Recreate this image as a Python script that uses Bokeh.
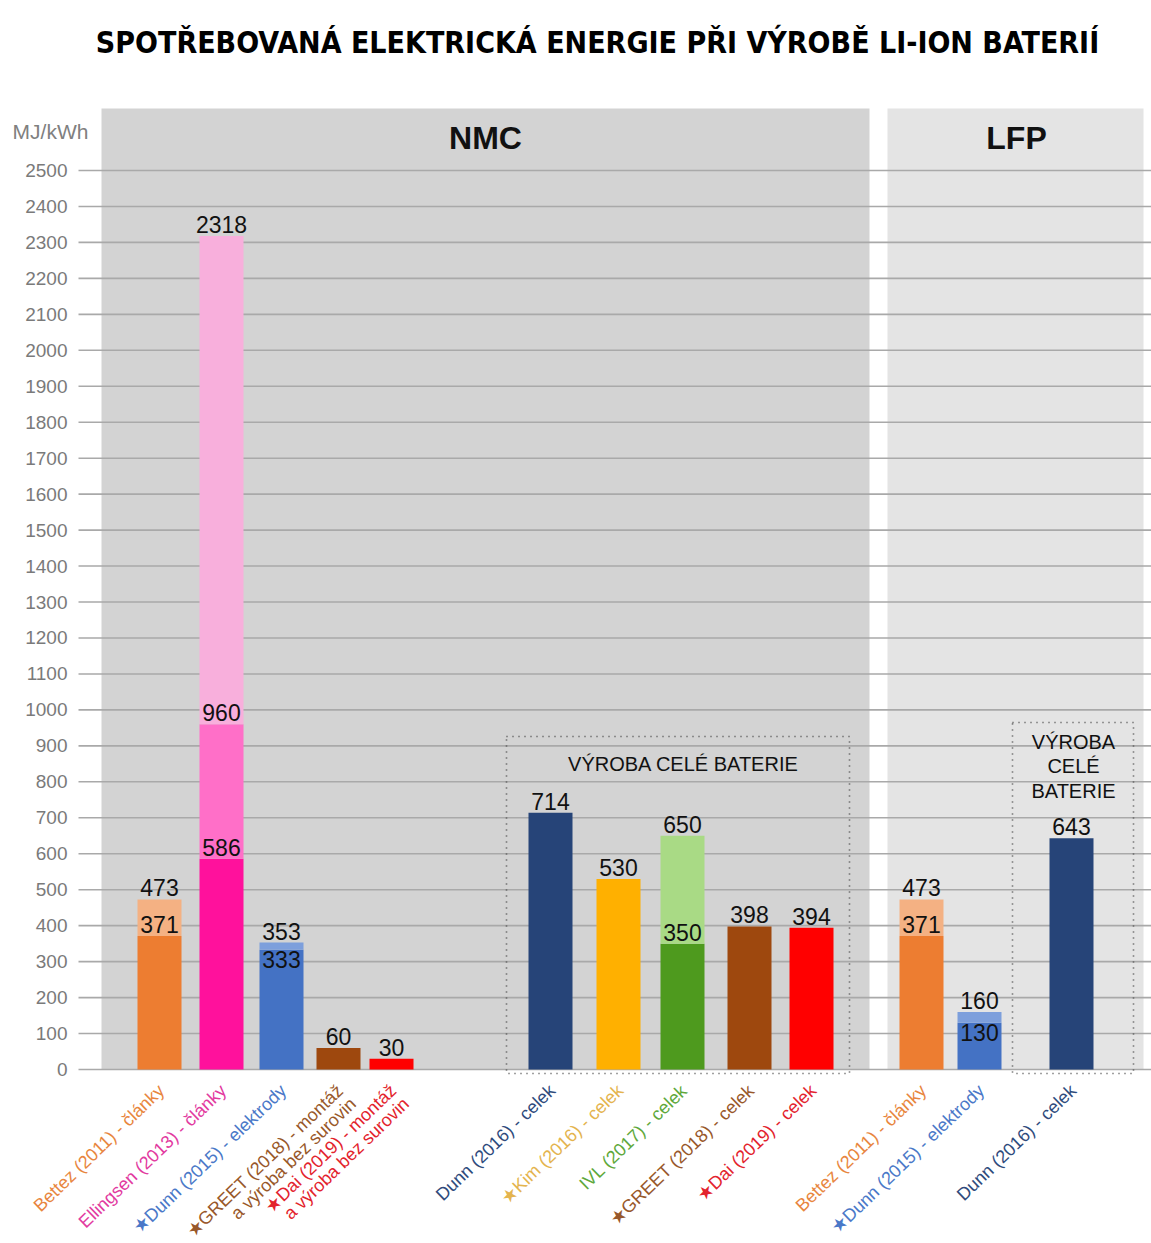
from bokeh.plotting import figure
from bokeh.models import Range1d, ColumnDataSource
from bokeh.core.properties import value
from bokeh.embed import file_html
from bokeh.resources import INLINE

# ---------------- data ----------------
title_text = "SPOTŘEBOVANÁ ELEKTRICKÁ ENERGIE PŘI VÝROBĚ LI-ION BATERIÍ"
unit_text = "MJ/kWh"
panel_names = ["NMC", "LFP"]
box_text_nmc = "VÝROBA CELÉ BATERIE"
box_text_lfp = "VÝROBA\nCELÉ\nBATERIE"
y_ticks = list(range(0, 2600, 100))

# NMC - partial production steps
g1_labels = ["Bettez (2011) - články", "Ellingsen (2013) - články",
             "★Dunn (2015) - elektrody",
             "★GREET (2018) - montáž\na výroba bez surovin",
             "★Dai (2019) - montáž\na výroba bez surovin"]
g1_values = [[371, 473], [586, 960, 2318], [333, 353], [60], [30]]
g1_colors = [["#ed7d31", "#f4b183"], ["#ff119c", "#ff6fc8", "#f8afdc"],
             ["#4472c4", "#7d9fdc"], ["#9e480e"], ["#ff0000"]]
g1_text_colors = ["#e8863e", "#e23aa0", "#4a78c8", "#98582a", "#e3232d"]

# NMC - whole battery
g2_labels = ["Dunn (2016) - celek", "★Kim (2016) - celek", "IVL (2017) - celek",
             "★GREET (2018) - celek", "★Dai (2019) - celek"]
g2_values = [[714], [530], [350, 650], [398], [394]]
g2_colors = [["#264478"], ["#ffb000"], ["#4e9a1e", "#a9da85"], ["#9e480e"], ["#ff0000"]]
g2_text_colors = ["#2f4b7c", "#e4b44e", "#5ea83a", "#98582a", "#e3232d"]

# LFP
g3_labels = ["Bettez (2011) - články", "★Dunn (2015) - elektrody", "Dunn (2016) - celek"]
g3_values = [[371, 473], [130, 160], [643]]
g3_colors = [["#ed7d31", "#f4b183"], ["#4472c4", "#7d9fdc"], ["#264478"]]
g3_text_colors = ["#e8863e", "#4a78c8", "#2f4b7c"]

# ---------------- layout ----------------
W, H = 1151, 1243
GRID_LEFT = 78
ZERO_PX = 1069          # pixel row of value 0
PX_PER_UNIT = 899 / 2500


def val(py):
    """page pixel row -> data value"""
    return (ZERO_PX - py) / PX_PER_UNIT


g1_x = [159, 221, 281, 338, 391]
g2_x = [550, 618, 682, 749, 811]
g3_x = [921, 979, 1071]
BAR_W = 44

p = figure(width=W, height=H, output_backend="svg", toolbar_location=None,
           x_axis_type=None, y_axis_type=None,
           x_range=Range1d(0, W), y_range=Range1d(val(H), val(0)),
           min_border_left=0, min_border_right=0,
           min_border_top=0, min_border_bottom=0)
p.outline_line_color = None
p.background_fill_color = "white"
p.border_fill_color = "white"
p.xgrid.visible = False
p.ygrid.visible = False

# panels
panel_top = val(108)
p.quad(left=[101], right=[869], bottom=[0], top=[panel_top],
       fill_color="#d3d3d3", line_color=None, level="underlay")
p.quad(left=[887], right=[1143], bottom=[0], top=[panel_top],
       fill_color="#e4e4e4", line_color=None, level="underlay")

# grid lines and y tick labels (value scale)
p.segment(x0=[GRID_LEFT] * len(y_ticks), x1=[W] * len(y_ticks),
          y0=y_ticks, y1=y_ticks, line_color="#a9a9a9", line_width=1.6,
          level="underlay")
p.text(x=[67] * len(y_ticks), y=y_ticks, text=[str(t) for t in y_ticks],
       text_font=value("Liberation Sans"), text_font_size="19px",
       text_align="right", text_baseline="middle", text_color="#7a7a7a")
p.text(x=[50], y=[val(131)], text=[unit_text],
       text_font=value("Liberation Sans"), text_font_size="21px",
       text_align="center", text_baseline="middle", text_color="#808080")

p.text(x=[485, 1016], y=[val(137)] * 2, text=panel_names,
       text_font=value("Liberation Sans"), text_font_style="bold",
       text_font_size="32px", text_align="center", text_baseline="middle",
       text_color="#111111")

# dotted boxes
p.quad(left=[506, 1012], right=[849, 1133], bottom=[val(1073)] * 2,
       top=[val(736), val(722)], fill_color=None, line_color="#444444",
       line_width=1.6, line_dash="1 5")
p.text(x=[683], y=[val(763)], text=[box_text_nmc],
       text_font=value("Liberation Sans"), text_font_size="20px",
       text_align="center", text_baseline="middle", text_color="#111111")
p.text(x=[1073], y=[val(766)], text=[box_text_lfp],
       text_font=value("Liberation Sans"), text_font_size="20px",
       text_align="center", text_baseline="middle", text_color="#111111",
       text_line_height=1.1)

# bars + value labels
bx, bb, bt, bc = [], [], [], []
lab_x_b, lab_y_b, lab_t_b = [], [], []     # labels sitting above a boundary
lab_x_t, lab_y_t, lab_t_t = [], [], []     # labels hanging below a boundary
xl_x, xl_t, xl_c = [], [], []

for xs, vals, cols, labels, tcols in [
        (g1_x, g1_values, g1_colors, g1_labels, g1_text_colors),
        (g2_x, g2_values, g2_colors, g2_labels, g2_text_colors),
        (g3_x, g3_values, g3_colors, g3_labels, g3_text_colors)]:
    for x, vs, cs, lab, tc in zip(xs, vals, cols, labels, tcols):
        prev = 0
        for i, (v, c) in enumerate(zip(vs, cs)):
            bx.append(x); bb.append(prev); bt.append(v); bc.append(c)
            prev = v
            if i == len(vs) - 1 or vs[i + 1] - v >= 70:
                lab_x_b.append(x); lab_y_b.append(v); lab_t_b.append(str(v))
            else:
                lab_x_t.append(x); lab_y_t.append(v); lab_t_t.append(str(v))
        xl_x.append(x - 5); xl_t.append(lab); xl_c.append(tc)

p.vbar(x=bx, width=BAR_W, bottom=bb, top=bt, fill_color=bc, line_color=None)

p.text(x=lab_x_b, y=lab_y_b, text=lab_t_b, text_font=value("Liberation Sans"),
       text_font_size="23px", text_align="center", text_baseline="bottom",
       text_color="#111111", y_offset=-3)
p.text(x=lab_x_t, y=lab_y_t, text=lab_t_t, text_font=value("Liberation Sans"),
       text_font_size="23px", text_align="center", text_baseline="top",
       text_color="#111111", y_offset=1)

# category labels (rotated)
src = ColumnDataSource(dict(x=xl_x, y=[val(1080)] * len(xl_x), text=xl_t, color=xl_c))
p.text(x="x", y="y", text="text", text_color="color", source=src,
       angle=44, angle_units="deg", text_align="right", text_baseline="top",
       text_font=value("Liberation Sans"), text_font_size="18px",
       text_line_height=0.92)

# title
p.text(x=[597], y=[val(42)], text=[title_text], text_align="center",
       text_baseline="middle", text_font=value("DejaVu Sans Condensed"),
       text_font_style="bold", text_font_size="30px", text_color="#000000")

open("out.html", "w").write(file_html(p, INLINE))
